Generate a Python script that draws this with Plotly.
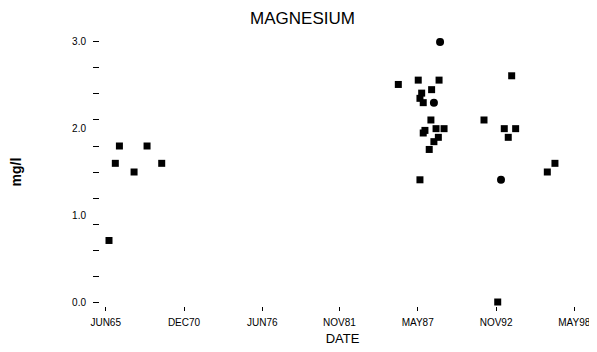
import plotly.graph_objects as go

# Square-marker samples
sq_dates = ["1965-08-25", "1966-02-03", "1966-05-19", "1967-05-30", "1968-04-27", "1969-05-08",
            "1985-12-20", "1987-05-15", "1988-10-30", "1988-04-22", "1987-08-11", "1987-06-28",
            "1987-09-20", "1988-04-04", "1987-11-03", "1987-09-20", "1988-08-14", "1989-03-07",
            "1988-10-12", "1988-06-20", "1988-02-21", "1987-06-28", "1991-12-27", "1993-12-06",
            "1993-05-30", "1994-03-18", "1993-09-09", "1992-12-13", "1996-06-07", "1996-12-20"]
sq_values = [0.71, 1.60, 1.80, 1.50, 1.80, 1.60,
             2.51, 2.56, 2.56, 2.45, 2.41, 2.35,
             2.30, 2.10, 1.98, 1.95, 2.00, 2.00,
             1.90, 1.85, 1.76, 1.41, 2.10, 2.61,
             2.00, 2.00, 1.90, 0.00, 1.50, 1.60]

# Circle-marker samples
ci_dates = ["1988-11-25", "1988-06-20", "1993-03-07"]
ci_values = [3.00, 2.30, 1.41]

x_tick_dates = ["1965-06-01", "1970-12-01", "1976-06-01", "1981-11-01", "1987-05-01", "1992-11-01", "1998-05-01"]
x_tick_labels = ["JUN65", "DEC70", "JUN76", "NOV81", "MAY87", "NOV92", "MAY98"]

y_minor_ticks = [round(0.3 * i, 1) for i in range(11)]
y_label_vals = [0, 1, 2, 3]
y_label_text = ["0.0", "1.0", "2.0", "3.0"]

yrange = [-0.046, 3.046]
font = "Liberation Sans, Arial, sans-serif"

fig = go.Figure()
fig.add_trace(go.Scatter(x=sq_dates, y=sq_values, mode="markers",
                         marker=dict(symbol="square", size=7, color="black"),
                         showlegend=False))
fig.add_trace(go.Scatter(x=ci_dates, y=ci_values, mode="markers",
                         marker=dict(symbol="circle", size=8, color="black"),
                         showlegend=False))
# invisible trace to activate the label axis
fig.add_trace(go.Scatter(x=[sq_dates[0]], y=[sq_values[0]], yaxis="y2", mode="markers",
                         marker=dict(opacity=0), showlegend=False, hoverinfo="skip"))

# the page body adds an 8px offset, so the figure is sized/shifted to compensate
fig.update_layout(
    width=589, height=344,
    margin=dict(l=92, r=12, t=30, b=46),
    paper_bgcolor="white", plot_bgcolor="white",
    font=dict(family=font, color="black"),
    title=dict(text="MAGNESIUM", x=0.5, xanchor="center", y=0.988, yanchor="top",
               pad=dict(t=0, b=0), font=dict(size=17, family=font)),
    xaxis=dict(type="date", range=["1965-01-06", "1999-01-30"], automargin=False,
               tickmode="array", tickvals=x_tick_dates, ticktext=x_tick_labels,
               ticks="outside", ticklen=4, tickcolor="black", tickwidth=1,
               ticklabelstandoff=3,
               showgrid=False, zeroline=False, showline=False,
               tickfont=dict(size=10, family=font),
               title=dict(text="DATE", font=dict(size=13, family=font), standoff=6)),
    yaxis=dict(range=yrange, tickmode="array", tickvals=y_minor_ticks, automargin=False,
               showticklabels=False, ticks="outside", ticklen=6, tickcolor="black",
               showgrid=False, zeroline=False, showline=False),
    yaxis2=dict(range=yrange, overlaying="y", side="left", tickmode="array", automargin=False,
                tickvals=y_label_vals, ticktext=y_label_text,
                ticks="outside", ticklen=11, tickcolor="rgba(0,0,0,0)",
                showgrid=False, zeroline=False, showline=False,
                tickfont=dict(size=10, family=font),
                title=dict(text="<b>mg/l</b>", font=dict(size=14, family=font), standoff=47)),
)

fig.write_html("out.html")
